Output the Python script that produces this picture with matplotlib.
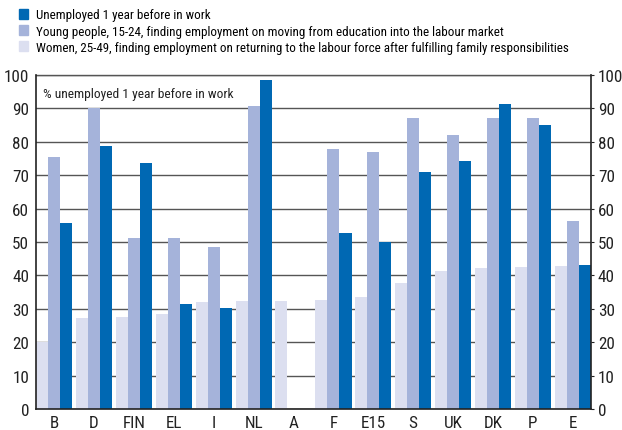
import numpy as np
import matplotlib.pyplot as plt
from matplotlib.patches import Patch

plt.rcParams['font.family'] = ['Roboto Condensed', 'Liberation Sans', 'DejaVu Sans']

countries = ['B', 'D', 'FIN', 'EL', 'I', 'NL', 'A', 'F', 'E15', 'S', 'UK', 'DK', 'P', 'E']
women = [20.0, 27.3, 27.6, 28.5, 32.0, 32.3, 32.3, 32.7, 33.6, 37.8, 41.4, 42.3, 42.6, 42.9]
young = [75.4, 90.1, 51.2, 51.2, 48.5, 90.7, 0, 77.8, 76.9, 87.1, 82.0, 87.1, 87.1, 56.3]
unemployed = [55.7, 78.7, 73.6, 31.4, 30.2, 98.5, 0, 52.7, 50.0, 71.0, 74.3, 91.3, 85.0, 43.0]

labels = ['Unemployed 1 year before in work',
          'Young people, 15-24, finding employment on moving from education into the labour market',
          'Women, 25-49, finding employment on returning to the labour force after fulfilling family responsibilities']
c_dark = '#0068b3'
c_mid = '#a5b3da'
c_light = '#dcdff0'

fig = plt.figure(figsize=(6.22, 4.31), dpi=100)
ax = fig.add_axes([0.058, 0.0487, 0.892, 0.775])

x = np.arange(len(countries))
w = 0.303
# no bar where there is no value (A)
for vals, off, col in [(women, -w, c_light), (young, 0, c_mid), (unemployed, w, c_dark)]:
    vals = np.asarray(vals)
    keep = vals > 0
    ax.bar(x[keep] + off, vals[keep], w, color=col, zorder=3)

ax.set_xlim(-1.5 * w, len(countries) - 1 + 1.5 * w)
ax.set_ylim(0, 100)
ax.set_yticks(np.arange(0, 101, 10))
ax.set_xticks(x)
ax.set_xticklabels(countries)
ax.yaxis.grid(True, color='#555555', lw=1, zorder=0)
ax.tick_params(axis='both', length=0, labelsize=12.3, colors='#222222', pad=4)
ax.tick_params(axis='y', right=True, labelright=True, length=2, color='#222222', pad=3)
ax.tick_params(axis='y', left=False)
for s in ['left', 'right', 'bottom']:
    ax.spines[s].set_color('#222222')
    ax.spines[s].set_linewidth(1.2)
    ax.spines[s].set_zorder(4)
ax.spines['top'].set_color('#555555')
ax.spines['top'].set_linewidth(1)

ax.text(0.012, 0.965, '% unemployed 1 year before in work', transform=ax.transAxes,
        fontsize=9.7, va='top', ha='left', color='#222222')

handles = [Patch(color=c_dark), Patch(color=c_mid), Patch(color=c_light)]
fig.legend(handles, labels, loc='upper left', bbox_to_anchor=(0.03, 0.978),
           frameon=False, fontsize=9.4, handlelength=0.7, handleheight=0.8,
           handletextpad=0.6, labelspacing=0.25, borderaxespad=0, borderpad=0)

fig.savefig('out.png', dpi=100)
